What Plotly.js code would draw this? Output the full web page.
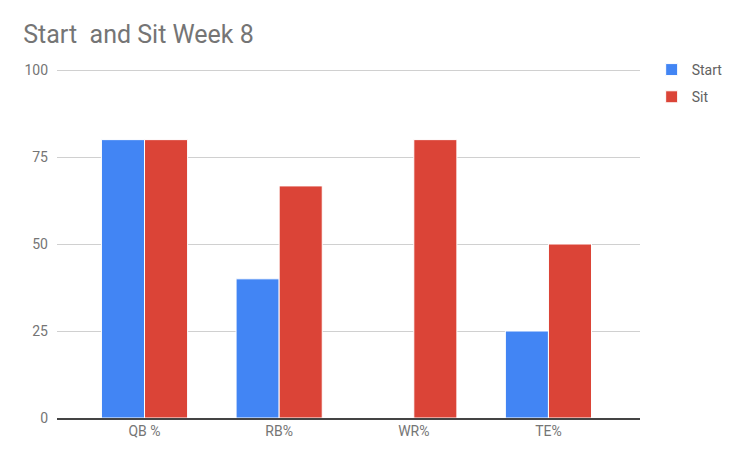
<!DOCTYPE html>
<html><head><meta charset="utf-8">
<script src="https://cdn.plot.ly/plotly-3.0.1.min.js"></script>
<style>body{margin:0;background:#fff}#c{width:750px;height:463px}</style>
</head><body><div id="c"></div>
<script>
const categories = ["QB %", "RB%", "WR%", "TE%"];
const startVals = [80, 40, 0, 25];
const sitVals = [80, 66.7, 80, 50];
const yTicks = [0, 25, 50, 75, 100];

const traces = [
  {type:'bar', name:'Start', legendgroup:'a', x:categories, y:startVals, marker:{color:'#4285F4', line:{color:'#ffffff', width:1}}},
  {type:'bar', name:'Sit', legendgroup:'b', x:categories, y:sitVals, marker:{color:'#DB4437', line:{color:'#ffffff', width:1}}}
];
const layout = {
  width:750, height:463,
  margin:{l:57, r:110, t:69, b:45},
  paper_bgcolor:'#fff', plot_bgcolor:'#fff',
  font:{family:'Roboto, sans-serif', color:'#757575', size:14},
  title:{text:'Start  and Sit Week 8', x:0.031, xanchor:'left', y:0.925, yanchor:'middle', font:{size:25, color:'#757575', family:'Roboto, sans-serif'}},
  barmode:'group', bargap:0.36, bargroupgap:0,
  xaxis:{type:'category', range:[-0.65, 3.68], showgrid:false, showline:true, linecolor:'#444', linewidth:1.5, ticks:'', tickfont:{size:14, color:'#757575'}, fixedrange:true},
  yaxis:{range:[0, 100.3], tickvals:yTicks, showgrid:true, gridcolor:'#d0d0d0', zeroline:false, ticks:'', ticklabelstandoff:8, tickfont:{size:14, color:'#757575'}},
  legend:{x:1.02, xanchor:'left', y:1.043, yanchor:'top', font:{size:14, color:'#616161'}, itemwidth:30, tracegroupgap:6},
  showlegend:true
};
Plotly.newPlot('c', traces, layout, {displayModeBar:false, staticPlot:true});
</script></body></html>
